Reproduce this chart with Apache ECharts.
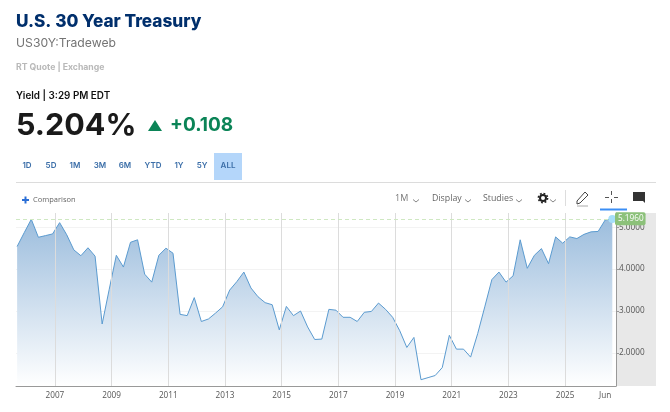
<!DOCTYPE html>
<html><head><meta charset="utf-8">
<style>html,body{margin:0;padding:0;background:#fff}#c{width:670px;height:412px}</style>
<script src="https://cdn.jsdelivr.net/npm/echarts@6/dist/echarts.min.js"></script>
</head><body><div id="c"></div>
<script>
var dates=['2005-09','2005-12','2006-03','2006-06','2006-09','2006-12','2007-03','2007-06','2007-09','2007-12','2008-03','2008-06','2008-09','2008-12','2009-03','2009-06','2009-09','2009-12','2010-03','2010-06','2010-09','2010-12','2011-03','2011-06','2011-09','2011-12','2012-03','2012-06','2012-09','2012-12','2013-03','2013-06','2013-09','2013-12','2014-03','2014-06','2014-09','2014-12','2015-03','2015-06','2015-09','2015-12','2016-03','2016-06','2016-09','2016-12','2017-03','2017-06','2017-09','2017-12','2018-03','2018-06','2018-09','2018-12','2019-03','2019-06','2019-09','2019-12','2020-03','2020-06','2020-09','2020-12','2021-03','2021-06','2021-09','2021-12','2022-03','2022-06','2022-09','2022-12','2023-03','2023-06','2023-09','2023-12','2024-03','2024-06','2024-09','2024-12','2025-03','2025-06','2025-09','2025-12','2026-03','2026-06','2026-09'];
var yields=[4.54,4.87,5.19,4.76,4.80,4.84,5.11,4.82,4.46,4.32,4.51,4.31,2.69,3.52,4.33,4.05,4.64,4.70,3.88,3.69,4.33,4.50,4.38,2.92,2.89,3.32,2.75,2.81,2.95,3.10,3.50,3.70,3.93,3.55,3.34,3.20,3.15,2.55,3.11,2.89,3.00,2.62,2.32,2.33,3.04,3.02,2.85,2.85,2.75,2.97,2.99,3.19,3.04,2.85,2.53,2.13,2.37,1.36,1.41,1.46,1.65,2.42,2.09,2.09,1.90,2.46,3.10,3.75,3.93,3.69,3.84,4.70,4.02,4.33,4.49,4.13,4.77,4.62,4.77,4.73,4.83,4.89,4.90,5.175,5.196];
var yearTicks=['2007-01','2009-01','2011-01','2013-01','2015-01','2017-01','2019-01','2021-01','2023-01','2025-01'];
var yearLabels=['2007','2009','2011','2013','2015','2017','2019','2021','2023','2025'];
var juneTick='2026-06', juneLabel='Jun';
var rangeTabs=['1D','5D','1M','3M','6M','YTD','1Y','5Y','ALL'];
var tabCenters=[27,51,75,100,125,153,179,202,228];
var lastValue=yields[yields.length-1], lastDate=dates[dates.length-1];

var ts=function(s){var p=s.split('-');return +p[0]+(+p[1]-1)/12;};
var labelMap={};yearTicks.forEach(function(d,i){labelMap[ts(d)]=yearLabels[i];});labelMap[ts(juneTick)]=juneLabel;
var UI='"Inter","Open Sans",sans-serif', AX='"Open Sans","Liberation Sans",sans-serif';
function txt(x,y,t,size,weight,color,align,font){return {type:'text',x:x,y:y,z:20,silent:true,style:{text:t,fontSize:size,fontWeight:weight,fill:color,align:align||'left',verticalAlign:'middle',fontFamily:font||UI}};}
function chev(x,y){return {type:'polyline',z:20,silent:true,shape:{points:[[x-3,y-1.5],[x,y+1],[x+3,y-1.5]]},style:{stroke:'#888',lineWidth:1,fill:null}};}
function line(a,b,c,d,col,w){return {type:'line',z:20,silent:true,shape:{x1:a,y1:b,x2:c,y2:d},style:{stroke:col,lineWidth:w||1}};}
var g=[
 {type:'rect',z:0,silent:true,shape:{x:616,y:213,width:40,height:173},style:{fill:'#e8e8e8'}},
 txt(16,22,'U.S. 30 Year Treasury',17.2,800,'#002f6c'),
 txt(16,43,'US30Y:Tradeweb',12.2,400,'#747474'),
 txt(16,67,'RT Quote | Exchange',8.7,700,'#b9b9b9'),
 txt(16,96,'Yield | 3:29 PM EDT',9.9,600,'#111'),
 txt(16,125.5,'5.204%',30.5,700,'#1a1a1a'),
 {type:'polygon',z:20,silent:true,shape:{points:[[148,131],[162,131],[155,120]]},style:{fill:'#0b8457'}},
 txt(170,125.5,'+0.108',19,700,'#0b8457'),
 {type:'rect',z:1,silent:true,shape:{x:214,y:153,width:28,height:27},style:{fill:'#b4d6fa'}},
 line(16,182.5,656,182.5,'#dcdcdc',1),
 line(22,200,29,200,'#2b6fd6',2),line(25.5,196.5,25.5,203.5,'#2b6fd6',2),
 txt(33,200,'Comparison',7.5,400,'#666',null,AX),
 txt(395,198,'1M',9,400,'#777',null,AX),chev(416,201),
 txt(432,198,'Display',8.8,400,'#666',null,AX),chev(468,201),
 txt(483,198,'Studies',8.8,400,'#666',null,AX),chev(519,201),
 {type:'circle',z:20,silent:true,shape:{cx:543,cy:198,r:3},style:{fill:'#fff',stroke:'#222',lineWidth:2}},
 {type:'circle',z:20,silent:true,shape:{cx:543,cy:198,r:4.6},style:{fill:null,stroke:'#222',lineWidth:1.6,lineDash:[1.8,1.8]}},
 chev(553,201),
 line(565.5,190,565.5,206,'#ddd',1),
 {type:'polygon',z:20,silent:true,shape:{points:[[577,201],[585,192],[588,195],[580,203],[577,204]]},style:{fill:'#fff',stroke:'#444',lineWidth:1}},
 line(577,206,588,206,'#aaa',1),
 line(611.5,191,611.5,195,'#555',1),line(611.5,199,611.5,203,'#555',1),line(605,197.5,609,197.5,'#555',1),line(614,197.5,618,197.5,'#555',1),
 line(600,209.5,627,209.5,'#3b8ef5',2),
 {type:'polygon',z:20,silent:true,shape:{points:[[633,192],[645,192],[645,203],[643,201],[633,201]]},style:{fill:'#333'}}
];
rangeTabs.forEach(function(t,i){g.push(txt(tabCenters[i],166,t,8,600,'#3b6ea8','center'));});

var vLines=yearTicks.map(function(d){return {xAxis:ts(d)};});
var chart=echarts.init(document.getElementById('c'),null,{renderer:'canvas'});
chart.setOption({
 animation:false,backgroundColor:'#fff',
 graphic:{elements:g},
 grid:{left:16,right:54,top:213,bottom:26,containLabel:false},
 xAxis:{type:'value',min:2005.627,max:2026.797,
  axisLine:{onZero:false,lineStyle:{color:'#999',width:1}},
  axisTick:{show:true,inside:true,length:3,customValues:[ts(juneTick)],lineStyle:{color:'#999'}},
  axisLabel:{customValues:Object.keys(labelMap).map(Number),formatter:function(v){return labelMap[v]||'';},color:'#555',fontSize:8.2,fontFamily:AX,margin:6,hideOverlap:false},
  splitLine:{show:false}},
 yAxis:{type:'value',position:'right',min:1.21,max:5.34,splitNumber:4,
  axisLine:{show:true,onZero:false,lineStyle:{color:'#999',width:1}},
  axisTick:{show:true,length:3,lineStyle:{color:'#999'}},
  axisLabel:{color:'#555',fontSize:8.2,fontFamily:AX,margin:3,showMinLabel:false,showMaxLabel:false,formatter:function(v){return v.toFixed(4);}},
  splitLine:{show:true,showMinLine:false,showMaxLine:false,lineStyle:{color:'#f3f3f3',width:1}}},
 series:[{type:'line',data:dates.map(function(d,i){return [ts(d),yields[i]];}),symbol:'none',smooth:false,
  lineStyle:{color:'#5b9bd0',width:1},
  areaStyle:{opacity:1,origin:'start',color:{type:'linear',x:0,y:0,x2:0,y2:1,colorStops:[{offset:0,color:'#9cbddd'},{offset:1,color:'#ffffff'}]}},
  markLine:{silent:true,symbol:'none',animation:false,label:{show:false},
   lineStyle:{color:'#dcdcdc',type:'solid',width:1},
   data:vLines.concat([{yAxis:lastValue,lineStyle:{color:'#cfe8c2',type:[4,3],width:1},
    label:{show:true,position:'end',distance:-1,formatter:lastValue.toFixed(4),color:'#fff',fontSize:8.2,fontFamily:AX,backgroundColor:'#8cc17a',padding:[3,2,2,3],borderRadius:2}}])},
  markPoint:{silent:true,animation:false,symbol:'circle',symbolSize:8,itemStyle:{color:'#a6def9'},label:{show:false},data:[{coord:[ts(lastDate),lastValue]}]}
 }]
});
</script></body></html>
